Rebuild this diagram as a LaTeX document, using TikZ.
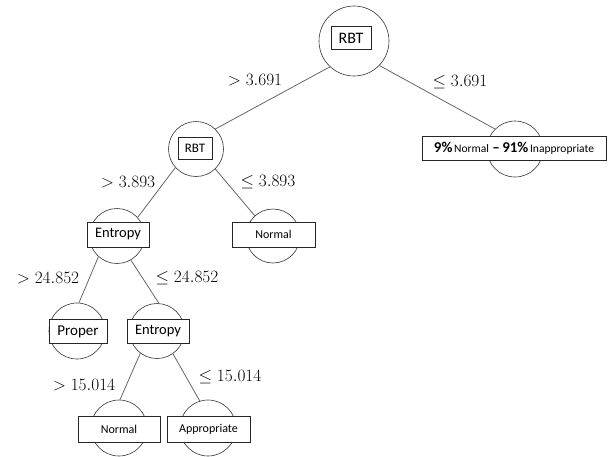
\documentclass[tikz,border=0pt]{standalone}
\usepackage{fontspec}
\newfontfamily\boxfont{Carlito}
\begin{document}
\begin{tikzpicture}[x=1pt,y=-1pt,
  circ/.style={circle, draw=black!80, line width=0.6pt, inner sep=0pt},
  lbox/.style={draw=black!85, fill=white, line width=0.6pt, inner sep=0pt},
  conn/.style={draw=black!60, line width=0.8pt},
  lab/.style={font=\fontsize{16.5}{18}\selectfont, inner sep=0pt}]
\useasboundingbox (0,0) rectangle (613,456);

% circles
\node[circ, minimum size=70pt] (root) at (354,41) {};
\node[circ, minimum size=56pt] (rleaf) at (515,149) {};
\node[circ, minimum size=55pt] (rbt) at (196,149) {};
\node[circ, minimum size=55pt] (ent) at (117,236) {};
\node[circ, minimum size=54pt] (nor) at (273,236) {};
\node[circ, minimum size=56pt] (prop) at (77,331) {};
\node[circ, minimum size=55pt] (ent2) at (157,331) {};
\node[circ, minimum size=56pt] (nor2) at (119,428) {};
\node[circ, minimum size=56pt] (appr) at (208,428) {};

% boxes
\node[lbox, minimum width=40pt, minimum height=23pt, font=\boxfont\fontsize{16}{18}\selectfont] (rootb) at (351,38) {RBT};
\node[lbox, minimum width=184pt, minimum height=24pt] (rleafb) at (514,148)
  {\boxfont{\fontsize{15}{17}\selectfont\textbf{9\%}}\,{\fontsize{11.5}{13}\selectfont Normal}\,\,{\fontsize{15}{17}\selectfont\textbf{–\,91\%}}\,{\fontsize{11.5}{13}\selectfont Inappropriate}};
\node[lbox, minimum width=34pt, minimum height=22pt, font=\boxfont\fontsize{13}{15}\selectfont] (rbtb) at (195,148) {RBT};
\node[lbox, minimum width=62pt, minimum height=25pt, font=\boxfont\fontsize{14.5}{16}\selectfont] (entb) at (118,234.5) {Entropy};
\node[lbox, minimum width=83pt, minimum height=25pt, font=\boxfont\fontsize{12}{14}\selectfont] (norb) at (273.5,234.5) {Normal};
\node[lbox, minimum width=58pt, minimum height=24pt, font=\boxfont\fontsize{15}{17}\selectfont] (propb) at (78,331.5) {Proper};
\node[lbox, minimum width=62pt, minimum height=24pt, font=\boxfont\fontsize{14.5}{16}\selectfont] (ent2b) at (158,331.5) {Entropy};
\node[lbox, minimum width=82pt, minimum height=26pt, font=\boxfont\fontsize{12}{14}\selectfont] (nor2b) at (119,429) {Normal};
\node[lbox, minimum width=83pt, minimum height=26pt, font=\boxfont\fontsize{12}{14}\selectfont] (apprb) at (208.5,429) {Appropriate};

% connectors
\draw[conn] (root.227) -- (rbt.46);
\draw[conn] (root.316) -- (rleaf.135);
\draw[conn] (rbt.222) -- (ent.42);
\draw[conn] (rbt.314) -- (nor.132);
\draw[conn] (ent.228) -- (prop.86);
\draw[conn] (ent.300) -- (ent2.86);
\draw[conn] (ent2.233) -- (nor2.88);
\draw[conn] (ent2.305) -- (appr.107);

% labels
\node[lab] (l1) at (255,80) {$>3.691$};
\node[lab] (l2) at (460,82) {$\leq 3.691$};
\node[lab] (l3) at (128,182) {$>3.893$};
\node[lab] (l4) at (268,182) {$\leq 3.893$};
\node[lab] (l5) at (48,278) {$>24.852$};
\node[lab] (l6) at (187,278) {$\leq 24.852$};
\node[lab] (l7) at (84,385) {$>15.014$};
\node[lab] (l8) at (230,377) {$\leq 15.014$};
\end{tikzpicture}
\end{document}
